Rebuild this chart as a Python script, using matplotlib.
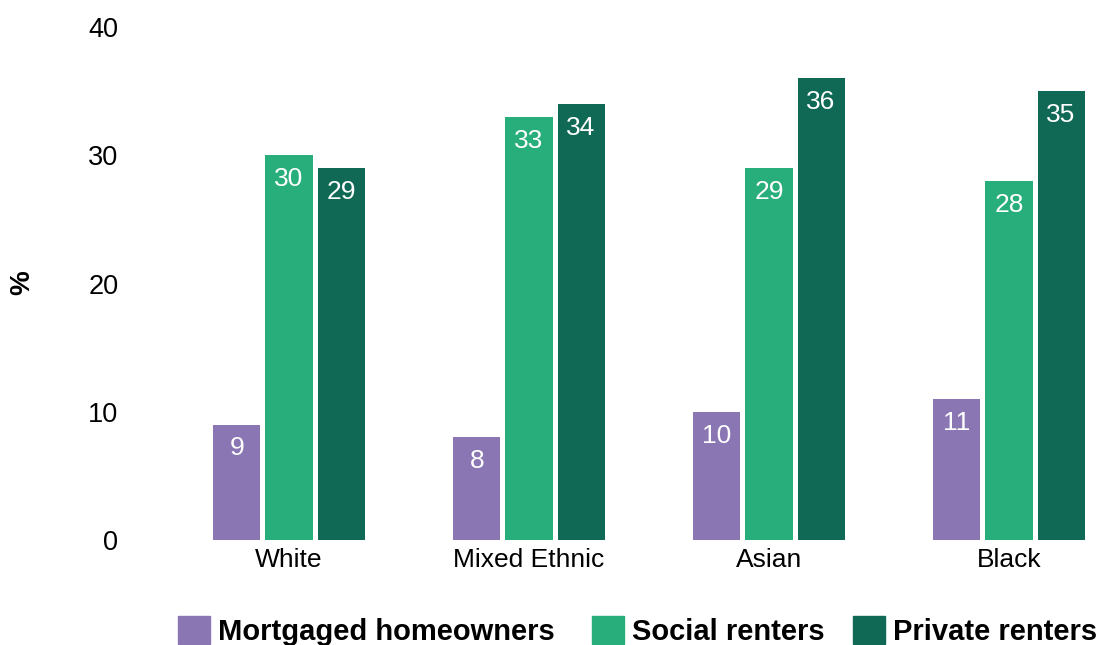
import numpy as np
import matplotlib.pyplot as plt
from matplotlib.patches import Patch

plt.rcParams['font.family'] = ['Liberation Sans', 'DejaVu Sans']

# Chart data
categories = ['White', 'Mixed Ethnic', 'Asian', 'Black']
series_names = ['Mortgaged homeowners', 'Social renters', 'Private renters']
mortgaged = [9, 8, 10, 11]
social = [30, 33, 29, 28]
private = [29, 34, 36, 35]
y_ticks = [0, 10, 20, 30, 40]

colors = ['#8A76B3', '#27AE7A', '#0F6955']

fig = plt.figure(figsize=(10.99, 6.45), dpi=100)
ax = fig.add_axes([131 / 1099, 105 / 645, 968 / 1099, 513 / 645])

x = np.arange(len(categories))
bar_width = 0.196
step = 0.217

for i, (vals, color) in enumerate(zip([mortgaged, social, private], colors)):
    xpos = x + (i - 1) * step
    ax.bar(xpos, vals, width=bar_width, color=color)
    # value labels inside the top of each bar
    for xp, v in zip(xpos, vals):
        ax.annotate(str(v), (xp, v), xytext=(0, -8.5), textcoords='offset points',
                    ha='center', va='top', color='white', fontsize=19)

ax.set_xlim((131 - 289) / 240, (1099 - 289) / 240)
ax.set_ylim(0, 40)
ax.set_yticks(y_ticks)
ax.set_xticks(x)
ax.set_xticklabels(categories)
ax.tick_params(axis='both', length=0, labelsize=19.5)
ax.tick_params(axis='x', labelsize=19)
ax.tick_params(axis='y', pad=9)
ax.tick_params(axis='x', pad=6)
for spine in ax.spines.values():
    spine.set_visible(False)

fig.text(22 / 1099, 1 - 283 / 645, '%', rotation=90, fontsize=20, fontweight='bold',
         ha='center', va='center')

# one legend per entry so each sits where the reference puts it
legend_x = [178, 592, 853]
for name, color, lx in zip(series_names, colors, legend_x):
    leg = fig.legend([Patch(color=color)], [name], loc='center left',
                     bbox_to_anchor=(lx / 1099, 1 - 631 / 645), frameon=False,
                     prop={'size': 21, 'weight': 'bold'}, handlelength=1.1, handleheight=1.1,
                     handletextpad=0.28, borderpad=0, borderaxespad=0)

plt.savefig('out.png', dpi=100)
